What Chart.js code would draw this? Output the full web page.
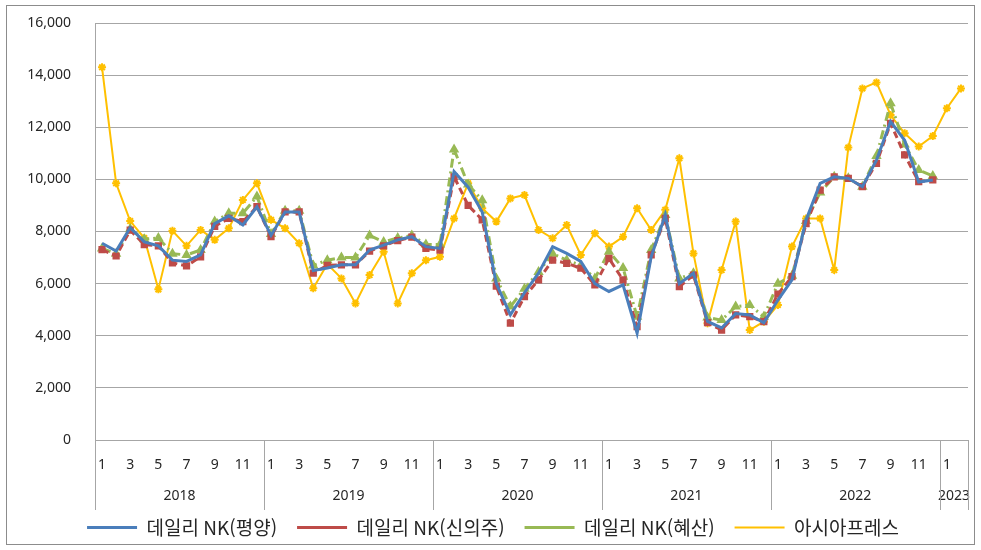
<!DOCTYPE html>
<html lang="ko">
<head>
    <meta charset="UTF-8">
    <title>북한 쌀 가격 비교</title>
    <script src="https://cdn.jsdelivr.net/npm/chart.js"></script>
    <style>
        html, body {
            margin: 0;
            padding: 0;
            background-color: #ffffff;
        }
        #chart-box {
            width: 981px;
            height: 550px;
        }
    </style>
</head>
<body>

<div id="chart-box">
    <canvas id="priceChart" width="981" height="550"></canvas>
</div>

<script>
// 월 라벨 (2018.1 ~ 2023.2)
const years = ['2018', '2019', '2020', '2021', '2022', '2023'];
const monthsPerYear = [12, 12, 12, 12, 12, 2];
const months = [];
monthsPerYear.forEach(n => { for (let m = 1; m <= n; m++) months.push(String(m)); });

const yTicks = [0, 2000, 4000, 6000, 8000, 10000, 12000, 14000, 16000];

const pyongyang = [
    7550, 7250, 8150, 7600, 7450, 6900, 6850, 7100, 8300, 8600, 8250, 8950,
    7850, 8750, 8750, 6500, 6600, 6720, 6720, 7290, 7480, 7680, 7800, 7420,
    7350, 10300, 9700, 8750, 6000, 4800, 5650, 6400, 7420, 7160, 6850, 6000,
    5700, 5950, 4100, 7030, 8630, 6000, 6400, 4550, 4300, 4850, 4800, 4500,
    5370, 6140, 8440, 9850, 10100, 10040, 9720, 10740, 12220, 11500, 9900, 9980,
    null, null
];
const sinuiju = [
    7300, 7060, 8050, 7500, 7450, 6800, 6680, 7030, 8200, 8500, 8380, 8950,
    7800, 8750, 8750, 6400, 6700, 6720, 6720, 7250, 7450, 7650, 7780, 7350,
    7290, 10100, 9000, 8450, 5900, 4480, 5500, 6140, 6900, 6780, 6590, 5950,
    6970, 6140, 4350, 7100, 8500, 5880, 6330, 4500, 4220, 4800, 4730, 4540,
    5600, 6270, 8300, 9590, 10100, 10040, 9720, 10610, 12150, 10940, 9910, 9980,
    null, null
];
const hyesan = [
    7350, 7150, 8100, 7700, 7750, 7150, 7100, 7290, 8380, 8700, 8700, 9340,
    7900, 8800, 8800, 6700, 6900, 7000, 7000, 7850, 7600, 7750, 7850, 7500,
    7500, 11150, 9800, 9200, 6200, 5120, 5800, 6450, 7150, 6900, 6700, 6200,
    7225, 6600, 4730, 7290, 8630, 6200, 6400, 4700, 4600, 5120, 5180, 4730,
    6000, 6300, 8400, 9500, 10100, 10040, 9720, 10900, 12920, 11340, 10360, 10130,
    null, null
];
const asiaPress = [
    14300, 9850, 8400, 7750, 5780, 8030, 7450, 8060, 7680, 8120, 9210, 9850,
    8450, 8120, 7550, 5820, 6750, 6200, 5240, 6330, 7225, 5240, 6400, 6900,
    7030, 8500, 9850, 8890, 8380, 9270, 9400, 8060, 7740, 8250, 7100, 7930,
    7420, 7800, 8890, 8060, 8830, 10810, 7160, 4480, 6520, 8380, 4220, 4540,
    5180, 7420, 8500, 8500, 6520, 11220, 13490, 13720, 12470, 11770, 11260, 11660,
    12730, 13490
];

const gridGray = '#a6a6a6';
const textColor = '#262626';

// 연도 구분선과 연도 라벨 (x축 아래 두 번째 줄)
const yearAxisPlugin = {
    id: 'yearAxis',
    beforeDraw(chart) {
        const ctx = chart.ctx;
        ctx.save();
        ctx.strokeStyle = '#8c8c8c';
        ctx.lineWidth = 1;
        ctx.strokeRect(6.5, 5.5, chart.width - 13, chart.height - 11);
        ctx.restore();
    },
    afterDraw(chart) {
        const ctx = chart.ctx;
        const xs = chart.scales.x;
        const bottom = chart.chartArea.bottom;
        const half = (xs.getPixelForValue(1) - xs.getPixelForValue(0)) / 2;
        ctx.save();
        ctx.strokeStyle = gridGray;
        ctx.lineWidth = 1;
        ctx.fillStyle = textColor;
        ctx.font = '14px "Noto Sans", sans-serif';
        ctx.textAlign = 'center';
        ctx.textBaseline = 'middle';
        let start = 0;
        const edges = [];
        monthsPerYear.forEach((n, k) => {
            const left = xs.getPixelForValue(start) - half;
            const right = xs.getPixelForValue(start + n - 1) + half;
            edges.push(left);
            if (k === monthsPerYear.length - 1) edges.push(right);
            ctx.fillText(years[k], (left + right) / 2, bottom + 56);
            start += n;
        });
        edges.forEach(x => {
            const px = Math.round(x) + 0.5;
            ctx.beginPath();
            ctx.moveTo(px, bottom);
            ctx.lineTo(px, bottom + 70);
            ctx.stroke();
        });
        ctx.restore();
    }
};

const ctx = document.getElementById('priceChart').getContext('2d');
new Chart(ctx, {
    type: 'line',
    data: {
        labels: months,
        datasets: [
            {
                label: '데일리 NK(평양)',
                data: pyongyang,
                borderColor: '#4A7EBB',
                backgroundColor: '#4A7EBB',
                borderWidth: 3,
                pointRadius: 0
            },
            {
                label: '데일리 NK(신의주)',
                data: sinuiju,
                borderColor: '#BE4B48',
                backgroundColor: '#BE4B48',
                borderWidth: 3,
                borderDash: [7, 4],
                pointStyle: 'rect',
                pointRadius: 3
            },
            {
                label: '데일리 NK(혜산)',
                data: hyesan,
                borderColor: '#98B954',
                backgroundColor: '#98B954',
                borderWidth: 3,
                borderDash: [9, 4, 2, 4],
                pointStyle: 'triangle',
                pointRadius: 3
            },
            {
                label: '아시아프레스',
                data: asiaPress,
                borderColor: '#FFC000',
                backgroundColor: '#FFC000',
                borderWidth: 2,
                pointStyle: 'star',
                pointRadius: 4,
                pointBorderWidth: 2
            }
        ]
    },
    plugins: [yearAxisPlugin],
    options: {
        responsive: false,
        animation: false,
        spanGaps: false,
        layout: {
            padding: { left: 18, right: 13, top: 23, bottom: 3 }
        },
        elements: {
            line: { tension: 0 }
        },
        scales: {
            x: {
                offset: true,
                grid: { display: false },
                border: { display: true, color: gridGray },
                ticks: {
                    autoSkip: false,
                    maxRotation: 0,
                    padding: 9,
                    color: textColor,
                    font: { family: '"Noto Sans", sans-serif', size: 14 },
                    callback: function (value, index) {
                        const m = Number(months[index]);
                        return m % 2 === 1 ? months[index] : '';
                    }
                },
                afterFit(scale) { scale.height = 58; }
            },
            y: {
                min: 0,
                max: 16000,
                afterBuildTicks(scale) {
                    scale.ticks = yTicks.map(v => ({ value: v }));
                },
                grid: {
                    color: gridGray,
                    lineWidth: 1,
                    tickLength: 24,
                    tickColor: 'transparent'
                },
                border: { display: true, color: gridGray },
                ticks: {
                    padding: 0,
                    color: textColor,
                    font: { family: '"Noto Sans", sans-serif', size: 14 },
                    callback: v => v.toLocaleString('en-US')
                },
                afterFit(scale) { scale.width = 77; }
            }
        },
        plugins: {
            legend: {
                position: 'bottom',
                labels: {
                    usePointStyle: true,
                    pointStyle: 'line',
                    pointStyleWidth: 50,
                    padding: 20,
                    color: textColor,
                    font: { family: '"Noto Sans CJK KR", sans-serif', size: 19 }
                }
            },
            tooltip: { enabled: false }
        }
    }
});
</script>

</body>
</html>
